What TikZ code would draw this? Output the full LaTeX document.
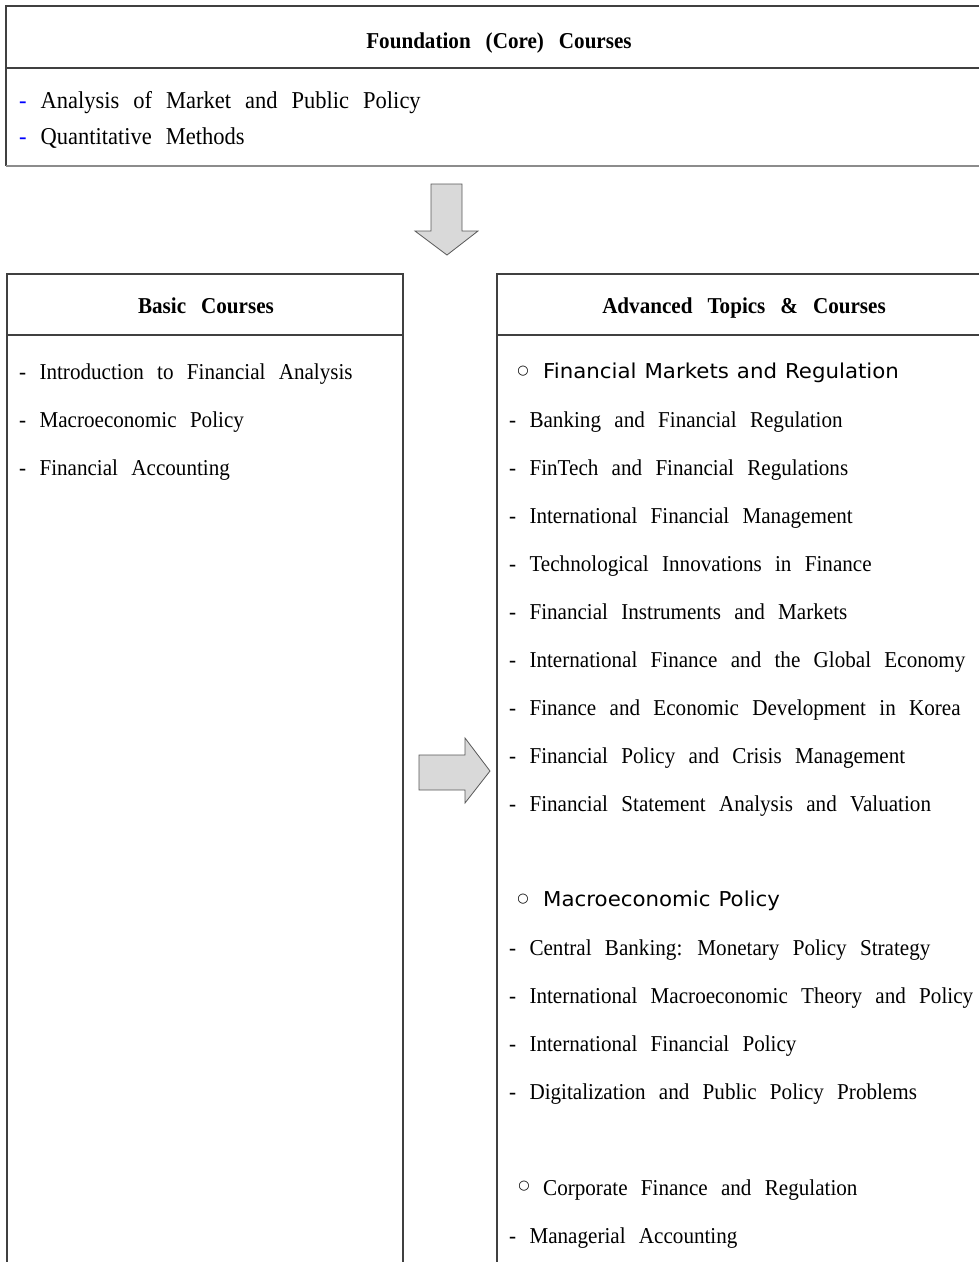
\documentclass[tikz,border=0pt]{standalone}
\usepackage{fontspec}
\setmainfont{Liberation Serif}[FakeStretch=0.93]
\newfontfamily\sansf{DejaVu Sans}
\newfontfamily\catf{DejaVu Sans}[FakeStretch=1.04]
\protected\def\HeadFnt{\fontsize{22.7}{27}\selectfont\bfseries\spaceskip=15pt\relax}
\protected\def\ItemFnt{\fontsize{22.7}{27}\selectfont\spaceskip=13.3pt\relax}
\protected\def\TopFnt{\fontsize{24.2}{29}\selectfont\spaceskip=14pt\relax}
\protected\def\CatFnt{\catf\fontsize{20.5}{25}\selectfont\spaceskip=8pt\relax}
\tikzset{
  frame/.style={draw=black!75, line width=1.3pt},
  shadowline/.style={draw=black!45, line width=2.5pt},
  blockarrow/.style={fill=black!15, draw=black!65, line width=0.8pt, line join=miter},
  headtxt/.style={font=\HeadFnt, inner sep=0, anchor=base},
  itemtxt/.style={font=\ItemFnt, inner sep=0, anchor=base west},
  topitem/.style={font=\TopFnt, inner sep=0, anchor=base west},
  cathead/.style={font=\CatFnt, inner sep=0, anchor=base west},
  ringb/.style={font=\sansf\bfseries\fontsize{13}{13}\selectfont, inner sep=0, anchor=center},
  ringl/.style={font=\sansf\fontsize{13}{13}\selectfont, inner sep=0, anchor=center},
}
\begin{document}
\begin{tikzpicture}[x=1pt,y=-1pt]
\path[use as bounding box, fill=white] (0,0) rectangle (979,1262);

% coordinates of the frames
\coordinate (tNW) at (6,6);
\coordinate (tNE) at (979,6);
\coordinate (tSepW) at (6,68);
\coordinate (tSepE) at (979,68);
\coordinate (tSW) at (6,166);
\coordinate (tSE) at (979,166);
\coordinate (lNW) at (7,274);
\coordinate (lNE) at (403,274);
\coordinate (lSepW) at (7,335);
\coordinate (lSepE) at (403,335);
\coordinate (lSW) at (7,1262);
\coordinate (lSE) at (403,1262);
\coordinate (rNW) at (497,274);
\coordinate (rNE) at (979,274);
\coordinate (rSepW) at (497,335);
\coordinate (rSepE) at (979,335);
\coordinate (rSW) at (497,1262);

% top box
\draw[frame] (tNE) -- (tNW) -- (tSW);
\draw[frame] (tSepW) -- (tSepE);
\draw[shadowline] (tSW) -- (tSE);

% left box
\draw[frame] (lSW) -- (lNW) -- (lNE) -- (lSE);
\draw[frame] (lSepW) -- (lSepE);

% right box
\draw[frame] (rNE) -- (rNW) -- (rSW);
\draw[frame] (rSepW) -- (rSepE);

% block arrows
\draw[blockarrow] (431,184) -- (462,184) -- (462,231) -- (478,231) -- (447,255)
  -- (415,231) -- (431,231) -- cycle;
\draw[blockarrow] (419,755) -- (465,755) -- (465,738) -- (490,771) -- (465,803)
  -- (465,790) -- (419,790) -- cycle;

% top box texts
\node[headtxt] (fh) at (499,48) {Foundation (Core) Courses};
\node[topitem] (f1) at (19,108) {{\color{blue}-} Analysis of Market and Public Policy};
\node[topitem] (f2) at (19,144) {{\color{blue}-} Quantitative Methods};

% left box texts
\node[headtxt] (bh) at (206,313) {Basic Courses};
\node[itemtxt] (b1) at (19,379) {- Introduction to Financial Analysis};
\node[itemtxt] (b2) at (19,427) {- Macroeconomic Policy};
\node[itemtxt] (b3) at (19,475) {- Financial Accounting};

% right box texts
\node[headtxt] (ah) at (744,313) {Advanced Topics \& Courses};

\node[ringb] (c1r) at (523,371.5) {○};
\node[cathead] (c1) at (543,378.5) {Financial Markets and Regulation};
\node[itemtxt] (a1) at (509,427) {- Banking and Financial Regulation};
\node[itemtxt] (a2) at (509,475) {- FinTech and Financial Regulations};
\node[itemtxt] (a3) at (509,523) {- International Financial Management};
\node[itemtxt] (a4) at (509,571) {- Technological Innovations in Finance};
\node[itemtxt] (a5) at (509,619) {- Financial Instruments and Markets};
\node[itemtxt] (a6) at (509,667) {- International Finance and the Global Economy};
\node[itemtxt] (a7) at (509,715) {- Finance and Economic Development in Korea};
\node[itemtxt] (a8) at (509,763) {- Financial Policy and Crisis Management};
\node[itemtxt] (a9) at (509,811) {- Financial Statement Analysis and Valuation};

\node[ringb] (c2r) at (523,899.5) {○};
\node[cathead] (c2) at (543,906.5) {Macroeconomic Policy};
\node[itemtxt] (m1) at (509,955) {- Central Banking: Monetary Policy Strategy};
\node[itemtxt] (m2) at (509,1003) {- International Macroeconomic Theory and Policy};
\node[itemtxt] (m3) at (509,1051) {- International Financial Policy};
\node[itemtxt] (m4) at (509,1099) {- Digitalization and Public Policy Problems};

\node[ringl] (c3r) at (524,1186) {○};
\node[itemtxt] (c3) at (543,1195) {Corporate Finance and Regulation};
\node[itemtxt] (k1) at (509,1243) {- Managerial Accounting};
\end{tikzpicture}
\end{document}
